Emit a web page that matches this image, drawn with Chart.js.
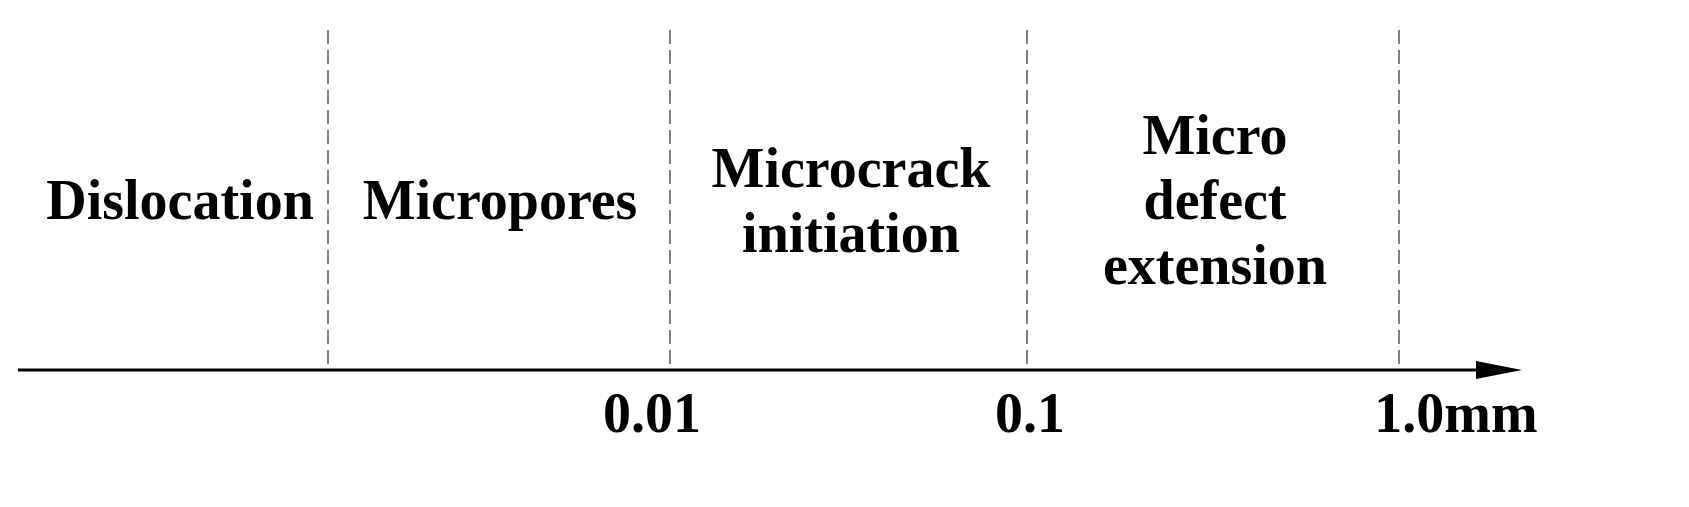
<!DOCTYPE html>
<html><head><meta charset="utf-8">
<script src="https://cdn.jsdelivr.net/npm/chart.js@4"></script>
<style>html,body{margin:0;background:#fff}#wrap{width:1689px;height:507px}</style>
</head><body><div id="wrap"><canvas id="c"></canvas></div>
<script>
// scale boundaries (position along axis) and what sits between them
const boundaries = [328, 670, 1027, 1399];
const regions = [
  { x: 180, lines: ['Dislocation'] },
  { x: 500, lines: ['Micropores'] },
  { x: 851, lines: ['Microcrack', 'initiation'] },
  { x: 1215, lines: ['Micro', 'defect', 'extension'] }
];
const tickLabels = ['0.01', '0.1', '1.0mm'];
const tickPos = [652, 1030, 1456];
const axisStart = 18, axisEnd = 1522, axisY = 370, lineTop = 30;

const font = 'bold 56px "Liberation Serif", "Times New Roman", serif';

const datasets = boundaries.map(b => ({
  data: [{x: b, y: lineTop}, {x: b, y: axisY}],
  borderColor: '#000', borderWidth: 1, borderDash: [14, 6], pointRadius: 0
}));
datasets.push({
  data: [{x: axisStart, y: axisY}, {x: axisEnd - 20, y: axisY}],
  borderColor: '#000', borderWidth: 3, pointRadius: 0
});

const textPlugin = {
  id: 'text',
  afterDraw(chart) {
    const {ctx, scales: {x, y}} = chart;
    ctx.save();
    ctx.fillStyle = '#000';
    ctx.font = font;
    ctx.textAlign = 'center';
    ctx.textBaseline = 'middle';
    regions.forEach(r => {
      const n = r.lines.length;
      r.lines.forEach((t, i) => {
        ctx.fillText(t, x.getPixelForValue(r.x), y.getPixelForValue(205 + (i - (n - 1) / 2) * 65));
      });
    });
    tickLabels.forEach((t, i) => ctx.fillText(t, x.getPixelForValue(tickPos[i]), y.getPixelForValue(418)));
    // arrow head
    const ax = x.getPixelForValue(axisEnd), ay = y.getPixelForValue(axisY);
    ctx.beginPath();
    ctx.moveTo(ax, ay);
    ctx.lineTo(ax - 46, ay - 9);
    ctx.lineTo(ax - 46, ay + 9);
    ctx.closePath();
    ctx.fill();
    ctx.restore();
  }
};

new Chart(document.getElementById('c'), {
  type: 'scatter',
  data: { datasets },
  options: {
    responsive: true, maintainAspectRatio: false, animation: false,
    showLine: true,
    layout: { padding: 0 },
    plugins: { legend: { display: false }, tooltip: { enabled: false } },
    scales: {
      x: { type: 'linear', min: 0, max: 1689, display: false },
      y: { type: 'linear', min: 0, max: 507, reverse: true, display: false }
    }
  },
  plugins: [textPlugin]
});
</script></body></html>
